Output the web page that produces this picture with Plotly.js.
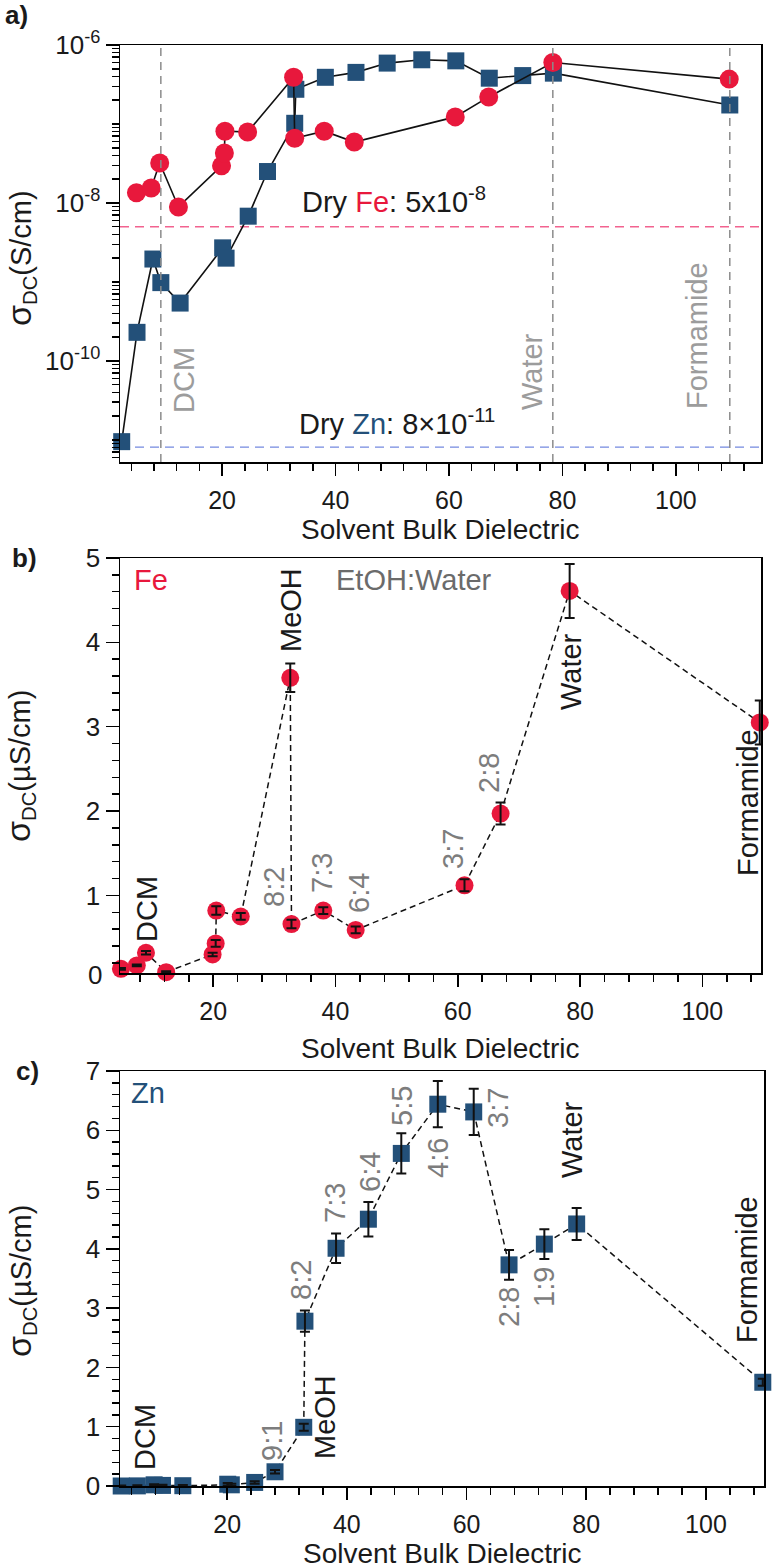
<!DOCTYPE html>
<html>
<head>
<meta charset="utf-8">
<script src="https://cdn.plot.ly/plotly-3.0.1.min.js"></script>
<style>
  body { margin: 0; background: #fff; }
  #chart { width: 774px; height: 1568px; }
</style>
</head>
<body>
<div id="chart"></div>
<script>
// solvent bulk dielectric of each measured point
var feEps = [4.9, 7.5, 9.0, 12.3, 19.9, 20.4, 20.5, 24.5, 32.6, 32.8, 38.0, 43.3, 61.1, 67.0, 78.3, 109.4];
var znEps = [2.3, 5.0, 7.8, 9.2, 12.6, 20.1, 20.7, 24.6, 28.0, 32.8, 33.0, 38.2, 43.6, 49.1, 55.2, 61.2, 67.1, 73.0, 78.4, 109.5];

// panel a) sigma_DC in S/cm (log scale)
var feSigmaA = [1.35e-8, 1.55e-8, 3.2e-8, 8.9e-9, 2.95e-8, 4.3e-8, 8.1e-8, 7.9e-8, 3.9e-7, 6.6e-8, 8.1e-8, 5.9e-8, 1.23e-7, 2.2e-7, 6.0e-7, 3.7e-7];
var znSigmaA = [9.5e-12, 2.3e-10, 1.95e-9, 9.8e-10, 5.4e-10, 2.7e-9, 2.0e-9, 6.8e-9, 2.5e-8, 1.02e-7, 2.75e-7, 3.9e-7, 4.5e-7, 5.9e-7, 6.5e-7, 6.3e-7, 3.8e-7, 4.1e-7, 4.4e-7, 1.74e-7];
var dryFe = 5e-9;
var dryZn = 8.1e-12;
var solventLineEps = [9.2, 78.3, 109.5];

// panels b) and c) sigma_DC in uS/cm with error bars
var feSigma = [0.13, 0.17, 0.32, 0.09, 0.30, 0.43, 0.82, 0.75, 3.58, 0.66, 0.82, 0.59, 1.12, 1.97, 4.61, 3.05];
var feErr   = [0.01, 0.01, 0.02, 0.01, 0.02, 0.04, 0.05, 0.04, 0.17, 0.05, 0.04, 0.04, 0.07, 0.13, 0.32, 0.26];
var znSigma = [0.0, 0.002, 0.02, 0.01, 0.005, 0.03, 0.02, 0.06, 0.24, 0.99, 2.78, 4.01, 4.50, 5.61, 6.44, 6.31, 3.73, 4.08, 4.42, 1.75];
var znErr   = [0.01, 0.01, 0.01, 0.01, 0.01, 0.02, 0.02, 0.02, 0.03, 0.06, 0.18, 0.25, 0.29, 0.34, 0.39, 0.39, 0.25, 0.25, 0.27, 0.06];

var logTickVals = [1e-6, 1e-8, 1e-10];
var logTickText = ['10<sup>-6</sup>', '10<sup>-8</sup>', '10<sup>-10</sup>'];

var FONT = 'Liberation Sans, Arial, Helvetica, sans-serif';
var RED = '#e8183c';
var BLUE = '#235079';
var W = 774, H = 1568;
function px(x) { return x / W; }
function py(y) { return 1 - y / H; }

var xRangeA = [2, 115];

// minor ticks for the log axis: 1..9 in every decade (labelled decades excluded)
var logMinor = [];
for (var d = -12; d <= -7; d++) {
  for (var m = 1; m <= 9; m++) {
    if (m === 1 && d % 2 === 0) continue;
    logMinor.push(m * Math.pow(10, d));
  }
}

function xAxis(dom, range, anchor) {
  return {
    domain: dom, range: range, anchor: anchor,
    showline: true, mirror: true, linecolor: '#000', linewidth: 1.5,
    showgrid: false, zeroline: false,
    ticks: 'outside', ticklen: 12, tickwidth: 1.5, tickcolor: '#000',
    tickvals: [20, 40, 60, 80, 100], ticklabelstandoff: 3,
    tickfont: {family: FONT, size: 25, color: '#1a1a1a'},
    minor: {dtick: 4, tick0: 0, ticks: 'outside', ticklen: 7, tickwidth: 1.5, tickcolor: '#000'}
  };
}
function yAxis(dom, range, anchor) {
  return {
    domain: dom, range: range, anchor: anchor,
    showline: true, mirror: true, linecolor: '#000', linewidth: 1.5,
    showgrid: false, zeroline: false,
    ticks: 'outside', ticklen: 13, tickwidth: 1.5, tickcolor: '#000',
    tickfont: {family: FONT, size: 26, color: '#1a1a1a'},
    dtick: 1,
    minor: {dtick: 0.2, tick0: 0, ticks: 'outside', ticklen: 7, tickwidth: 1.5, tickcolor: '#000'}
  };
}

var xa = xAxis([px(120), px(761)], xRangeA, 'y');
var ya = yAxis([py(462), py(45)], [-11.28, -6], 'x');
ya.type = 'log';
ya.tickmode = 'array';
ya.tickvals = logTickVals;
ya.ticktext = logTickText;
delete ya.dtick;
ya.minor = {tickmode: 'array', tickvals: logMinor, ticks: 'outside', ticklen: 7, tickwidth: 1.5, tickcolor: '#000'};

var xb = xAxis([px(120), px(761)], [4.75, 109.6], 'y2');
var yb = yAxis([py(973), py(558)], [0.08, 5], 'x2');
var xc = xAxis([px(120), px(764)], [2.1, 109.7], 'y3');
var yc = yAxis([py(1486), py(1071)], [0, 7], 'x3');

var dashLine = {color: '#111', width: 1.5, dash: '6px,4px'};
var errStyle = function (arr) {
  return {type: 'data', array: arr, visible: true, color: '#111', thickness: 2, width: 5};
};

var data = [
  // panel a
  {x: xRangeA, y: [dryFe, dryFe], mode: 'lines', xaxis: 'x', yaxis: 'y',
   line: {color: '#f2638f', width: 1.3, dash: '9px,6px'}},
  {x: xRangeA, y: [dryZn, dryZn], mode: 'lines', xaxis: 'x', yaxis: 'y',
   line: {color: '#7489e0', width: 1.3, dash: '9px,6px'}},
  {x: znEps, y: znSigmaA, mode: 'lines+markers', xaxis: 'x', yaxis: 'y', cliponaxis: false,
   line: {color: '#111', width: 1.6},
   marker: {symbol: 'square', size: 17, color: BLUE}},
  {x: feEps, y: feSigmaA, mode: 'lines+markers', xaxis: 'x', yaxis: 'y', cliponaxis: false,
   line: {color: '#111', width: 1.6},
   marker: {symbol: 'circle', size: 19, color: RED}},
  // panel b
  {x: feEps, y: feSigma, mode: 'lines+markers', xaxis: 'x2', yaxis: 'y2', cliponaxis: false,
   line: dashLine, marker: {symbol: 'circle', size: 18, color: RED}},
  {x: feEps, y: feSigma, mode: 'markers', xaxis: 'x2', yaxis: 'y2', cliponaxis: false,
   marker: {size: 2, opacity: 0}, error_y: errStyle(feErr)},
  // panel c
  {x: znEps, y: znSigma, mode: 'lines+markers', xaxis: 'x3', yaxis: 'y3', cliponaxis: false,
   line: dashLine, marker: {symbol: 'square', size: 17, color: BLUE}},
  {x: znEps, y: znSigma, mode: 'markers', xaxis: 'x3', yaxis: 'y3', cliponaxis: false,
   marker: {size: 2, opacity: 0}, error_y: errStyle(znErr)}
];

var shapes = solventLineEps.map(function (e) {
  return {type: 'line', xref: 'x', yref: 'y domain', x0: e, x1: e, y0: 0, y1: 1,
          line: {color: '#8c8c8c', width: 1.5, dash: '8px,6px'}};
});

var annotations = [];
function ann(text, x, y, o) {
  o = o || {};
  annotations.push({
    text: text, xref: 'paper', yref: 'paper', x: px(x), y: py(y),
    xanchor: o.xanchor || 'center', yanchor: o.yanchor || 'middle',
    textangle: o.angle || 0, showarrow: false,
    font: {family: FONT, size: o.size || 29, color: o.color || '#1a1a1a'}
  });
}
var GRAY_A = '#9c9c9c';
var GRAY = '#7d7d7d';
var SIGMA = '<span style="font-size:34px">σ</span>';

// panel labels and axis titles
ann('<b>a)</b>', 16, 15, {size: 26});
ann('<b>b)</b>', 25, 558, {size: 26});
ann('<b>c)</b>', 28, 1071, {size: 26});
ann('Solvent Bulk Dielectric', 440, 529, {size: 28});
ann('Solvent Bulk Dielectric', 440, 1048, {size: 28});
ann('Solvent Bulk Dielectric', 442, 1553, {size: 28});
ann(SIGMA + '<sub>DC</sub>(S/cm)', 20, 258, {angle: -90});
ann(SIGMA + '<sub>DC</sub>(µS/cm)', 20, 766, {angle: -90});
ann(SIGMA + '<sub>DC</sub>(µS/cm)', 20, 1281, {angle: -90});

// panel a texts
ann('Dry <span style="color:' + RED + '">Fe</span>: 5x10<sup>-8</sup>', 300, 200, {xanchor: 'left'});
ann('Dry <span style="color:' + BLUE + '">Zn</span>: 8×10<sup>-11</sup>', 297, 422, {xanchor: 'left'});
ann('DCM', 184, 380, {angle: -90, color: GRAY_A});
ann('Water', 532, 372, {angle: -90, color: GRAY_A});
ann('Formamide', 697, 336, {angle: -90, color: GRAY_A});

// panel b texts
ann('0', 104, 975, {xanchor: 'right', size: 26});
ann('Fe', 151, 580, {color: RED});
ann('EtOH:Water', 414, 580, {color: '#6b6b6b'});
ann('DCM', 147, 909, {angle: -90});
ann('MeOH', 291, 610, {angle: -90});
ann('Water', 571, 672, {angle: -90});
ann('Formamide', 748, 803, {angle: -90});
ann('8:2', 274, 887, {angle: -90, color: GRAY});
ann('7:3', 322, 873, {angle: -90, color: GRAY});
ann('6:4', 359, 893, {angle: -90, color: GRAY});
ann('3:7', 453, 849, {angle: -90, color: GRAY});
ann('2:8', 489, 773, {angle: -90, color: GRAY});

// panel c texts
ann('Zn', 148, 1093, {color: BLUE});
ann('DCM', 145, 1437, {angle: -90});
ann('9:1', 272, 1441, {angle: -90, color: GRAY});
ann('MeOH', 325, 1417, {angle: -90});
ann('8:2', 301, 1280, {angle: -90, color: GRAY});
ann('7:3', 335, 1203, {angle: -90, color: GRAY});
ann('6:4', 370, 1172, {angle: -90, color: GRAY});
ann('5:5', 402, 1106, {angle: -90, color: GRAY});
ann('4:6', 438, 1158, {angle: -90, color: GRAY});
ann('3:7', 498, 1108, {angle: -90, color: GRAY});
ann('Water', 572, 1140, {angle: -90});
ann('2:8', 509, 1307, {angle: -90, color: GRAY});
ann('1:9', 544, 1287, {angle: -90, color: GRAY});
ann('Formamide', 747, 1270, {angle: -90});

var layout = {
  width: W, height: H,
  margin: {l: 0, r: 0, t: 0, b: 0},
  paper_bgcolor: '#fff', plot_bgcolor: '#fff',
  showlegend: false,
  font: {family: FONT, color: '#1a1a1a'},
  xaxis: xa, yaxis: ya,
  xaxis2: xb, yaxis2: yb,
  xaxis3: xc, yaxis3: yc,
  shapes: shapes,
  annotations: annotations
};

Plotly.newPlot('chart', data, layout, {displayModeBar: false, staticPlot: true});
</script>
</body>
</html>
